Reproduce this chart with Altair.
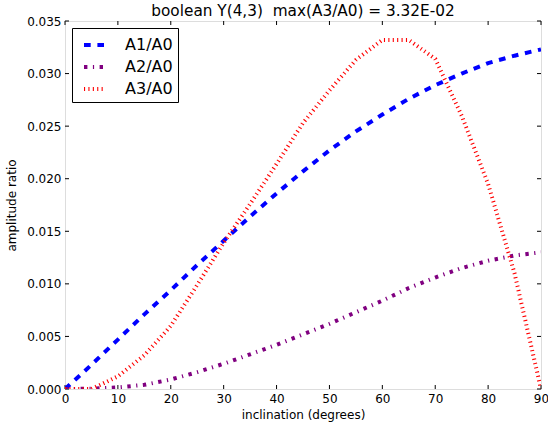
import altair as alt
import pandas as pd

incl = [0, 5, 10, 15, 20, 25, 30, 35, 40, 45, 50, 55, 60, 65, 70, 75, 80, 85, 90]
a1 = [0.0, 0.0023, 0.0047, 0.0071, 0.0094, 0.0118, 0.0141, 0.0164, 0.0186, 0.0207,
      0.0227, 0.0245, 0.0261, 0.0276, 0.0289, 0.0300, 0.0310, 0.0317, 0.0323]
a2 = [0.0, 0.00003, 0.00015, 0.0004, 0.0009, 0.0016, 0.0024, 0.0033, 0.0042, 0.0052,
      0.0062, 0.0073, 0.0084, 0.0096, 0.0106, 0.0115, 0.0122, 0.0127, 0.0130]
a3 = [0.0, 0.0, 0.0012, 0.0032, 0.0060, 0.0099, 0.0139, 0.0176, 0.0214, 0.0253,
      0.0284, 0.0313, 0.0332, 0.0332, 0.0314, 0.0260, 0.0195, 0.0110, 0.0]
series = ["A1/A0", "A2/A0", "A3/A0"]
colors = ["#0000ff", "#800080", "#ff0000"]
dashes = [[6.7, 6.7], [3.4, 5.5, 1.2, 5.5], [1.1, 3.3]]
x_ticks = [0, 10, 20, 30, 40, 50, 60, 70, 80, 90]
y_ticks = [0.000, 0.005, 0.010, 0.015, 0.020, 0.025, 0.030, 0.035]
title_text = ["boolean Y(4,3)\u00a0 max(A3/A0) = 3.32E-02"]

W, H = 476, 368
FONT = "DejaVu Sans"

rows = []
for name, vals in zip(series, [a1, a2, a3]):
    for xi, v in zip(incl, vals):
        rows.append({"incl": xi, "ratio": v, "series": name})
df = pd.DataFrame(rows)
xt = pd.DataFrame({"t": x_ticks})
yt = pd.DataFrame({"t": y_ticks})
tt = pd.DataFrame({"title": title_text})

xscale = alt.Scale(domain=[0, 90], nice=False, zero=False)
yscale = alt.Scale(domain=[0, 0.035], nice=False, zero=False)

legend_kw = dict(title=None, orient="none", legendX=7, legendY=7,
                 symbolType="stroke", symbolSize=400, symbolStrokeWidth=4,
                 labelFontSize=16, labelFont=FONT, labelColor="black",
                 strokeColor="black", fillColor="white", padding=5,
                 symbolOffset=5, labelOffset=19, rowPadding=2, cornerRadius=0)

lines = alt.Chart(df).mark_line(strokeWidth=4, clip=True, strokeCap="butt").encode(
    x=alt.X("incl:Q", scale=xscale,
            axis=alt.Axis(values=x_ticks, title="inclination (degrees)", ticks=False,
                          domain=False, grid=False, labelPadding=4, titlePadding=5,
                          labelFontSize=12, titleFontSize=12, labelFont=FONT, titleFont=FONT,
                          labelColor="black", titleColor="black", titleFontWeight="normal",
                          labelFlush=False)),
    y=alt.Y("ratio:Q", scale=yscale,
            axis=alt.Axis(values=y_ticks, format=".3f", title="amplitude ratio", ticks=False,
                          domain=False, grid=False, labelPadding=4, titlePadding=8,
                          labelFontSize=12, titleFontSize=12, labelFont=FONT, titleFont=FONT,
                          labelColor="black", titleColor="black", titleFontWeight="normal",
                          labelFlush=False)),
    color=alt.Color("series:N", scale=alt.Scale(domain=series, range=colors),
                    legend=alt.Legend(**legend_kw)),
    strokeDash=alt.StrokeDash("series:N", scale=alt.Scale(domain=series, range=dashes),
                              legend=alt.Legend(**legend_kw)),
)

tick_len = 4
xb = alt.Chart(xt).mark_rule(color="black", strokeWidth=1).encode(
    x=alt.X("t:Q", scale=xscale), y=alt.value(H), y2=alt.value(H - tick_len))
xtop = alt.Chart(xt).mark_rule(color="black", strokeWidth=1).encode(
    x=alt.X("t:Q", scale=xscale), y=alt.value(0), y2=alt.value(tick_len))
yl = alt.Chart(yt).mark_rule(color="black", strokeWidth=1).encode(
    y=alt.Y("t:Q", scale=yscale), x=alt.value(0), x2=alt.value(tick_len))
yr = alt.Chart(yt).mark_rule(color="black", strokeWidth=1).encode(
    y=alt.Y("t:Q", scale=yscale), x=alt.value(W), x2=alt.value(W - tick_len))

title = alt.Chart(tt).mark_text(font=FONT, fontSize=15.3, color="black", align="center",
                                baseline="alphabetic", clip=False).encode(
    text="title:N", x=alt.value(W / 2), y=alt.value(-5.5))

chart = alt.layer(xb, xtop, yl, yr, lines, title).properties(
    width=W, height=H,
    autosize=alt.AutoSizeParams(type="none"),
    padding={"left": 65, "top": 21, "right": 7, "bottom": 41},
).configure_view(stroke="#555555", strokeWidth=1.5).configure(background="white")

chart.save("out.html", embed_options={"renderer": "svg", "actions": False})
